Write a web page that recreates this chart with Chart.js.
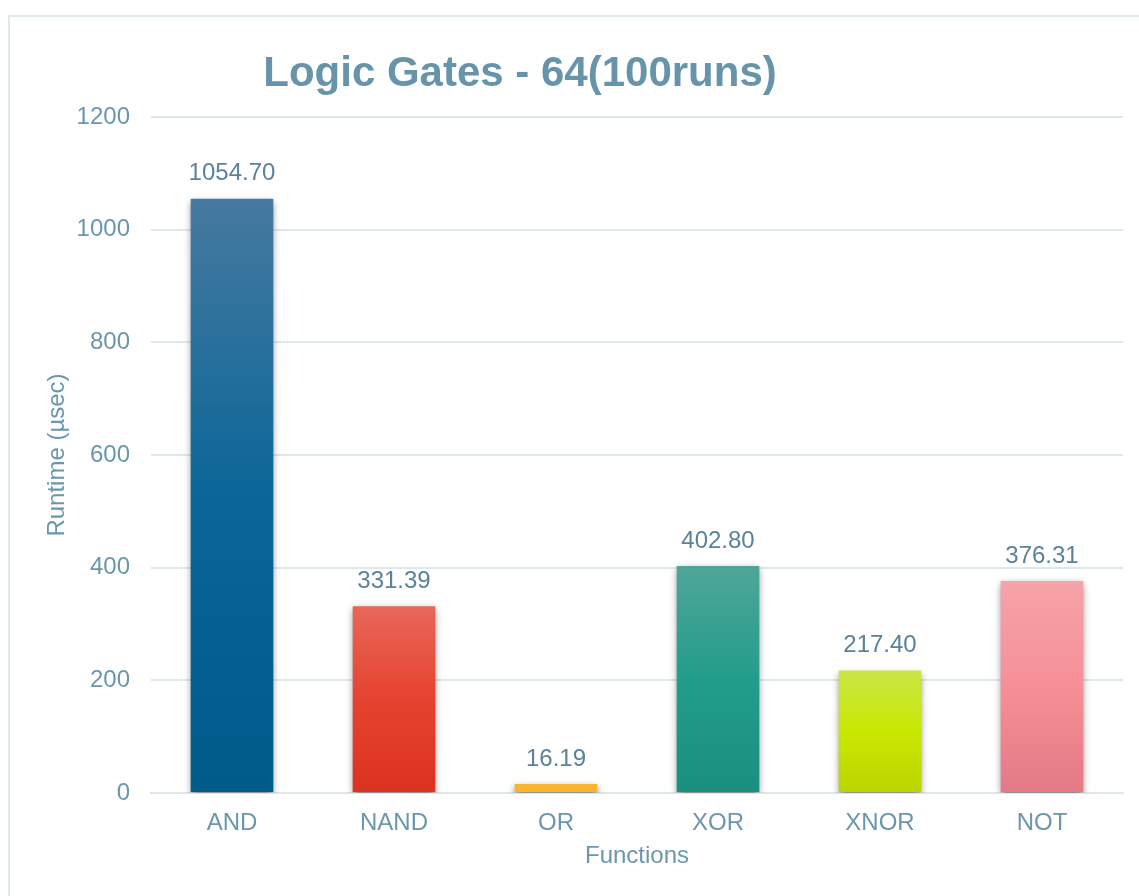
<!DOCTYPE html>
<html>
<head>
<meta charset="utf-8">
<script src="https://cdn.jsdelivr.net/npm/chart.js@4/dist/chart.umd.min.js"></script>
<style>
  html, body { margin: 0; padding: 0; background: #fff; overflow: hidden; }
  .frame {
    position: absolute; left: 8px; top: 15px; width: 1300px; height: 1000px;
    border: 2px solid #dde8ec; box-sizing: border-box;
  }
  .wrap { position: absolute; left: 0; top: 0; width: 1139px; height: 896px; }
</style>
</head>
<body>
<div class="frame"></div>
<div class="wrap"><canvas id="gates"></canvas></div>
<script>
const gates = ['AND', 'NAND', 'OR', 'XOR', 'XNOR', 'NOT'];
const runtimes = [1054.70, 331.39, 16.19, 402.80, 217.40, 376.31];
const yTicks = [0, 200, 400, 600, 800, 1000, 1200];

// top / middle / bottom colour of each bar
const barShades = [
  ['#467a9f', '#0a6699', '#005a8a'],
  ['#e8675a', '#e5432f', '#dc3220'],
  ['#fbb52d', '#fbb52d', '#fbb52d'],
  ['#4fa698', '#229d8b', '#1a8f7f'],
  ['#cae647', '#c9e800', '#bbd400'],
  ['#f6a3a9', '#f68f98', '#e37a85']
];

const FONT = '"Liberation Sans", Arial, sans-serif';
const TICK = '#6a97ad';

function barFill(ctx) {
  const shades = barShades[ctx.dataIndex];
  const chart = ctx.chart;
  if (!chart.chartArea || !chart.scales.y) return shades[1];
  const y = chart.scales.y;
  const top = y.getPixelForValue(ctx.raw);
  const bottom = y.getPixelForValue(0);
  if (!(bottom > top)) return shades[1];
  const g = chart.ctx.createLinearGradient(0, top, 0, bottom);
  g.addColorStop(0, shades[0]);
  g.addColorStop(0.5, shades[1]);
  g.addColorStop(1, shades[2]);
  return g;
}

const barShadow = {
  id: 'barShadow',
  beforeDatasetsDraw(chart) {
    const c = chart.ctx;
    c.save();
    c.shadowColor = 'rgba(0,0,0,0.5)';
    c.shadowBlur = 7;
    c.shadowOffsetX = 0;
    c.shadowOffsetY = 3;
  },
  afterDatasetsDraw(chart) {
    chart.ctx.restore();
  }
};

const valueLabels = {
  id: 'valueLabels',
  afterDatasetsDraw(chart) {
    const c = chart.ctx;
    const meta = chart.getDatasetMeta(0);
    c.save();
    c.font = '24px ' + FONT;
    c.fillStyle = '#5a8299';
    c.textAlign = 'center';
    c.textBaseline = 'middle';
    meta.data.forEach((bar, i) => {
      c.fillText(runtimes[i].toFixed(2), bar.x, bar.y - 25);
    });
    c.restore();
  }
};

const heading = {
  id: 'heading',
  afterDraw(chart) {
    const c = chart.ctx;
    c.save();
    c.font = 'bold 42px ' + FONT;
    c.fillStyle = '#6794aa';
    c.textAlign = 'center';
    c.textBaseline = 'middle';
    c.fillText('Logic Gates - 64(100runs)', 520, 74);
    c.restore();
  }
};

new Chart(document.getElementById('gates'), {
  type: 'bar',
  data: {
    labels: gates,
    datasets: [{
      data: runtimes,
      backgroundColor: barFill,
      borderWidth: 0,
      categoryPercentage: 1,
      barPercentage: 0.51
    }]
  },
  options: {
    responsive: true,
    maintainAspectRatio: false,
    animation: false,
    layout: { padding: { left: 0, right: 16, top: 117, bottom: 0 } },
    plugins: { legend: { display: false }, tooltip: { enabled: false } },
    scales: {
      x: {
        afterFit: s => { s.height = 103; },
        grid: { display: false, drawTicks: false },
        border: { color: '#dde8ec', width: 2 },
        ticks: { color: TICK, font: { family: FONT, size: 24 }, padding: 16 },
        title: {
          display: true, text: 'Functions', color: TICK,
          font: { family: FONT, size: 24 }, padding: { top: 0, bottom: 25 }
        }
      },
      y: {
        min: 0, max: 1200,
        afterFit: s => { s.width = 151; },
        afterBuildTicks: s => { s.ticks = yTicks.map(v => ({ value: v })); },
        grid: { color: '#dde8ec', lineWidth: 2, drawTicks: false },
        border: { display: false },
        ticks: {
          color: TICK, font: { family: FONT, size: 24 }, padding: 21,
          callback: v => String(v)
        },
        title: {
          display: true, text: 'Runtime (µsec)', color: TICK,
          font: { family: FONT, size: 24 }, padding: { top: 43, bottom: 0 }
        }
      }
    }
  },
  plugins: [barShadow, valueLabels, heading]
});
</script>
</body>
</html>
